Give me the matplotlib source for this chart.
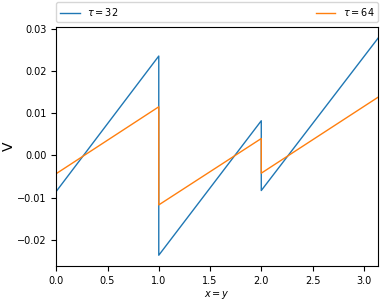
import numpy as np
import matplotlib
matplotlib.use("Agg")
import matplotlib.pyplot as plt

# breakpoints of the two sawtooth curves
x_pts = [0.0, 1.0, 1.0, 2.0, 2.0, np.pi]
v_tau32 = [-0.0085, 0.0235, -0.0236, 0.0082, -0.0083, 0.0278]
v_tau64 = [-0.0043, 0.0115, -0.0117, 0.0040, -0.0042, 0.0138]

plt.rcParams['font.size'] = 7

fig = plt.figure(figsize=(3.88, 3.0), dpi=100)
ax = fig.add_axes([0.145, 0.113, 0.83, 0.797])

ax.plot(x_pts, v_tau32, color='#1f77b4', lw=1.0, label=r'$\tau = 32$')
ax.plot(x_pts, v_tau64, color='#ff7f0e', lw=1.0, label=r'$\tau = 64$')

ax.set_xlim(0, np.pi)
ax.set_xlabel(r'$x = y$', fontsize=7, labelpad=2)
ax.set_ylabel('V', fontsize=10)
ax.yaxis.set_label_coords(-0.125, 0.5)
ax.tick_params(labelsize=7)

ax.legend(bbox_to_anchor=(0., 1.02, 1., .102), loc='lower left', ncol=2,
          mode='expand', borderaxespad=0., fontsize=7)

plt.savefig('out.png', dpi=100)
